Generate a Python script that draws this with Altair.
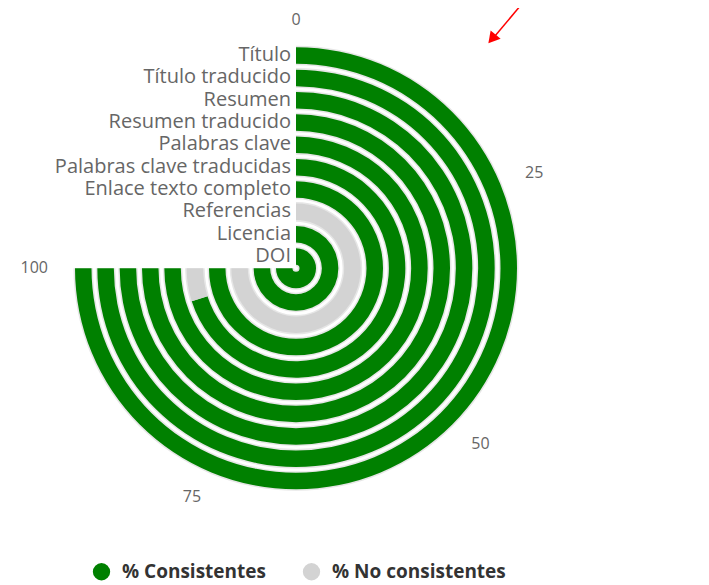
import math
import altair as alt
import pandas as pd

# ---- data ----
categories = ["Título", "Título traducido", "Resumen", "Resumen traducido",
              "Palabras clave", "Palabras clave traducidas", "Enlace texto completo",
              "Referencias", "Licencia", "DOI"]
consistentes = [100, 100, 100, 100, 100, 93.5, 100, 0, 100, 100]
no_consistentes = [0, 0, 0, 0, 0, 6.5, 0, 100, 0, 0]
series_names = ["% Consistentes", "% No consistentes"]
series_colors = ["#008000", "#d3d3d3"]
axis_ticks = [0, 25, 50, 75, 100]

# ---- build tables ----
n = len(categories)
rows, track_rows, label_rows = [], [], []
for k, cat in enumerate(categories):
    ring = n - 1 - k
    c, nc = consistentes[k], no_consistentes[k]
    for s, a, b in ((series_names[0], 0, c), (series_names[1], c, c + nc)):
        if b > a:
            rows.append(dict(cat=cat, series=s, start=a, end=b,
                             r_in=ring + 0.158, r_out=ring + 0.897))
    track_rows.append(dict(cat=cat, start=0, end=100,
                           r_in=ring + 0.09, r_out=ring + 0.965))
    label_rows.append(dict(cat=cat, r_mid=ring + 0.55))
bars = pd.DataFrame(rows)
tracks = pd.DataFrame(track_rows)
labels = pd.DataFrame(label_rows)
ticks = pd.DataFrame({"v": axis_ticks, "txt": [str(t) for t in axis_ticks]})

CX, CY = 288, 260.3
theta_scale = alt.Scale(domain=[0, 100], range=[0, 1.5 * math.pi])
r_scale = alt.Scale(type="linear", domain=[0, 10], range=[0, 223.3], zero=True)

track = alt.Chart(tracks).mark_arc(color="#e6e6e6").encode(
    theta=alt.Theta("start:Q", scale=theta_scale, stack=False),
    theta2="end:Q",
    radius=alt.Radius("r_in:Q", scale=r_scale),
    radius2="r_out:Q",
    x=alt.value(CX), y=alt.value(CY),
)

bar = alt.Chart(bars).mark_arc().encode(
    theta=alt.Theta("start:Q", scale=theta_scale, stack=False),
    theta2="end:Q",
    radius=alt.Radius("r_in:Q", scale=r_scale),
    radius2="r_out:Q",
    color=alt.Color("series:N",
                    scale=alt.Scale(domain=series_names, range=series_colors),
                    legend=alt.Legend(orient="none", legendX=84, legendY=554,
                                      direction="horizontal", title=None,
                                      symbolType="circle", symbolSize=300,
                                      symbolStrokeWidth=0,
                                      labelFont="Open Sans", labelFontSize=19,
                                      labelFontWeight="bold", labelColor="#333333",
                                      labelOffset=11, columnPadding=36,
                                      labelLimit=400)),
    x=alt.value(CX), y=alt.value(CY),
)

cat_text = alt.Chart(labels).mark_text(
    align="right", baseline="middle", dx=-5, font="Open Sans", fontSize=20,
    lineHeight=20, color="#666666"
).encode(
    text="cat:N",
    radius=alt.Radius("r_mid:Q", scale=r_scale),
    theta=alt.value(0),
    x=alt.value(CX), y=alt.value(CY),
)

def tick_layer(cond, align):
    return alt.Chart(ticks).transform_filter(cond).mark_text(
        align=align, baseline="middle", font="Open Sans", fontSize=16, color="#666666"
    ).encode(
        text="txt:N",
        theta=alt.Theta("v:Q", scale=theta_scale, stack=False),
        radius=alt.value(248),
        x=alt.value(CX), y=alt.value(CY),
    )

t_center = tick_layer("datum.v == 0", "center")
t_left = tick_layer("datum.v > 0 && datum.v < 60", "left")
t_right = tick_layer("datum.v > 60", "right")

dummy = pd.DataFrame({"a": [0]})
arrow_line = alt.Chart(dummy).mark_rule(color="#ff0000", strokeWidth=1.5).encode(
    x=alt.value(518), y=alt.value(-9), x2=alt.value(487), y2=alt.value(28)
)
arrow_head = alt.Chart(dummy).mark_point(
    shape="triangle-up", filled=True, color="#ff0000", size=170, angle=220, opacity=1
).encode(x=alt.value(484), y=alt.value(31))

chart = alt.layer(track, bar, cat_text, t_center, t_left, t_right, arrow_line, arrow_head).properties(
    width=693, height=577, padding=0,
    autosize=alt.AutoSizeParams(type="none"),
).configure_view(strokeWidth=0)

chart.save("out.html", embed_options={"renderer": "svg", "actions": False})
